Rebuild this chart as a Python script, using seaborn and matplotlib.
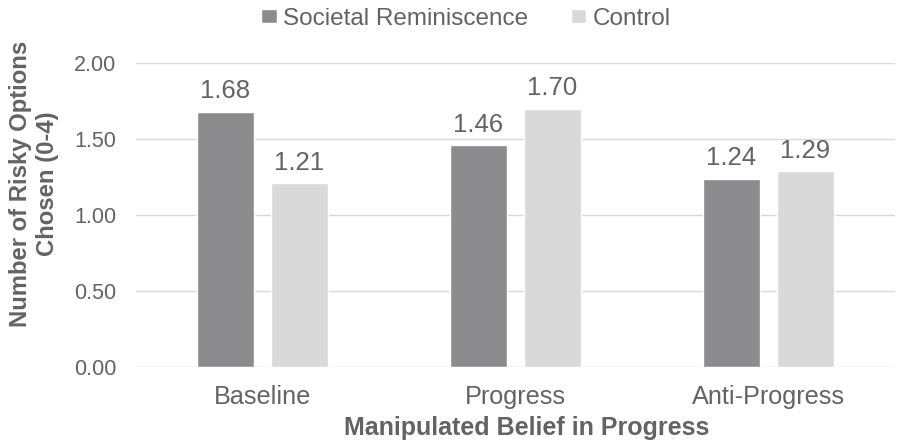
import matplotlib
matplotlib.use("Agg")
import matplotlib.pyplot as plt
import seaborn as sns
import pandas as pd

categories = ["Baseline", "Progress", "Anti-Progress"]
series_names = ["Societal Reminiscence", "Control"]
societal = [1.68, 1.46, 1.24]
control = [1.21, 1.70, 1.29]
yticks = [0.0, 0.5, 1.0, 1.5, 2.0]

df = pd.DataFrame({
    "cat": categories * 2,
    "series": [series_names[0]] * 3 + [series_names[1]] * 3,
    "value": societal + control,
})

sns.set_theme(style="white")
plt.rcParams["font.family"] = ["Liberation Sans", "DejaVu Sans"]
txt = "#636363"

fig = plt.figure(figsize=(9.08, 4.47), dpi=100)
ax = fig.add_axes([0.1498, 0.179, 0.8359, 0.680])
sns.barplot(data=df, x="cat", y="value", hue="series", order=categories,
            hue_order=series_names, palette=["#8c8c8e", "#d9d9da"],
            width=0.585, gap=0.217, ax=ax, legend=True, saturation=1)

ax.set_ylim(0, 2.0)
ax.set_yticks(yticks)
ax.set_yticklabels([f"{v:.2f}" for v in yticks])
ax.grid(axis="y", color="#d9d9d9", linewidth=1)
ax.set_axisbelow(True)
for s in ax.spines.values():
    s.set_visible(False)
ax.tick_params(axis="x", length=0, labelsize=18.2, labelcolor=txt, pad=13)
ax.tick_params(axis="y", length=0, labelsize=15.5, labelcolor=txt, pad=14)

for cont in ax.containers:
    ax.bar_label(cont, fmt="%.2f", padding=6, fontsize=18.5, color=txt)

ax.set_xlabel("Manipulated Belief in Progress", fontsize=18, fontweight="bold", color=txt)
ax.xaxis.set_label_coords(0.5145, -0.16)
ax.set_ylabel("")
fig.text(34 / 908, 1 - 184 / 447, "Number of Risky Options\nChosen (0-4)", rotation=90,
         ha="center", va="center", fontsize=17.2, fontweight="bold", color=txt,
         linespacing=1.25)

h, l = ax.get_legend_handles_labels()
ax.get_legend().remove()
fig.legend(h, l, loc="center", bbox_to_anchor=(0.513, 0.958), ncol=2, frameon=False,
           fontsize=17.5, labelcolor=txt, handlelength=0.65, handleheight=0.55,
           handletextpad=0.25, columnspacing=1.75)

fig.savefig("out.png", dpi=100)
